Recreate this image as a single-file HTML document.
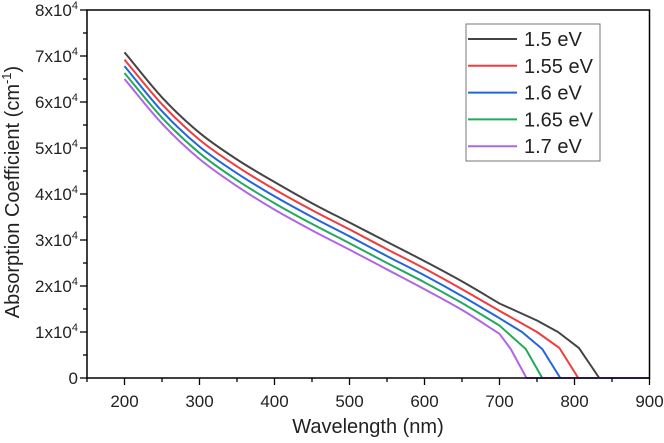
<!DOCTYPE html>
<html><head><meta charset="utf-8"><style>
body{margin:0;background:#fff;}
svg{display:block;font-family:"Liberation Sans",Arial,sans-serif;}
</style></head><body>
<svg id="chart" width="664" height="443" viewBox="0 0 664 443">
<g id="series"></g>
<g id="axes"></g>
<g id="legend"></g>
</svg>
<script>
const seriesNames = ["1.5 eV","1.55 eV","1.6 eV","1.65 eV","1.7 eV"];
const seriesColors = ["#444444","#f03c3c","#1f66e0","#22aa5a","#b066e6"];
const x15 = [200,250,300,350,400,450,500,550,600,650,700,750,778,806,833,900];
const y15 = [70.8,61,53.3,47.5,42.6,38,33.8,29.6,25.4,21,16.2,12.5,10,6.5,0,0];
const x155 = [200,250,300,350,400,450,500,550,600,650,700,750,780,805,900];
const y155 = [69.2,59.5,51.8,46,41,36.5,32.3,28,23.8,19.3,14.6,10,6.5,0,0];
const x16 = [200,250,300,350,400,450,500,550,600,650,700,730,757,781,900];
const y16 = [67.8,58,50.3,44.5,39.5,35,30.8,26.5,22.3,17.8,13,10,6.3,0,0];
const x165 = [200,250,300,350,400,450,500,550,600,650,700,735,757,900];
const y165 = [66.3,56.6,48.9,43,38,33.5,29.3,25,20.8,16.3,11.4,6.3,0,0];
const x17 = [200,250,300,350,400,450,500,550,600,650,700,715,736,900];
const y17 = [65,55.3,47.6,41.7,36.6,32.1,27.9,23.6,19.3,14.8,9.6,6.3,0,0];
const xTicks = [200,300,400,500,600,700,800,900];
const yTicks = [0,1,2,3,4,5,6,7,8];

const NS="http://www.w3.org/2000/svg";
const L=87,R=649.5,T=10,B=378;
const X=v=>L+(v-150)/(900-150)*(R-L);
const Y=v=>B-(v/80)*(B-T);
function mk(tag,attrs,parent){const e=document.createElementNS(NS,tag);for(const k in attrs)e.setAttribute(k,attrs[k]);parent.appendChild(e);return e;}
function smoothPath(px,py){
  // monotone cubic for points up to 700nm region, straight segments after
  const n=px.length,m=[],d=[];
  for(let i=0;i<n-1;i++)d.push((py[i+1]-py[i])/(px[i+1]-px[i]));
  for(let i=0;i<n;i++){
    if(i===0)m.push(d[0]);else if(i===n-1)m.push(d[n-2]);
    else m.push(d[i-1]*d[i]<=0?0:(d[i-1]+d[i])/2);
  }
  let s='M'+px[0].toFixed(2)+','+py[0].toFixed(2);
  for(let i=0;i<n-1;i++){
    const h=px[i+1]-px[i];
    if(i>=10||(i===n-2)){s+=' L'+px[i+1].toFixed(2)+','+py[i+1].toFixed(2);continue;}
    const m1=(i+1>=10)?d[i]:m[i+1];
    s+=' C'+(px[i]+h/3).toFixed(2)+','+(py[i]+m[i]*h/3).toFixed(2)+' '+(px[i+1]-h/3).toFixed(2)+','+(py[i+1]-m1*h/3).toFixed(2)+' '+px[i+1].toFixed(2)+','+py[i+1].toFixed(2);
  }
  return s;
}
const sg=document.getElementById('series'),ag=document.getElementById('axes'),lg=document.getElementById('legend');
const xs=[x15,x155,x16,x165,x17], ys=[y15,y155,y16,y165,y17];
for(let i=0;i<5;i++){
  const d=smoothPath(xs[i].map(X),ys[i].map(Y));
  const p=mk('path',{d:d,fill:'none',stroke:seriesColors[i],'stroke-width':2,'stroke-linejoin':'round'},sg);
  
  
}
const frame=mk('rect',{x:L,y:T,width:R-L,height:B-T,fill:'none',stroke:'#000','stroke-width':1.5},ag);


for(let v=150;v<=900;v+=50){
  const major=v%100===0;
  mk('line',{x1:X(v),x2:X(v),y1:B,y2:B+(major?7:4),stroke:'#000','stroke-width':1.3},ag);
}
xTicks.forEach(v=>{
  const t=mk('text',{x:X(v),y:B+29,'text-anchor':'middle','font-size':17,fill:'#222'},ag);
  t.textContent=v;
  
  
});
for(let v=0;v<=80;v+=5){
  const major=v%10===0;
  mk('line',{x1:L,x2:L-(major?7:4),y1:Y(v),y2:Y(v),stroke:'#000','stroke-width':1.3},ag);
}
yTicks.forEach(v=>{
  const t=mk('text',{x:78,y:Y(v*10)+6,'text-anchor':'end','font-size':17,fill:'#222'},ag);
  
  
  if(v===0){t.textContent='0';}
  else{
    t.textContent=v+'x10';
    const s=mk('tspan',{'font-size':11,dy:-7},t);s.textContent='4';
  }
});
const xt=mk('text',{x:368,y:433,'text-anchor':'middle','font-size':20,fill:'#222'},ag);
xt.textContent='Wavelength (nm)';


const yt=mk('text',{x:0,y:0,'text-anchor':'middle','font-size':20,fill:'#222',transform:'translate(19,192) rotate(-90)'},ag);
yt.textContent='Absorption Coefficient (cm';
const sup=mk('tspan',{'font-size':13,dy:-8},yt);sup.textContent='-1';
const cl=mk('tspan',{'font-size':20,dy:8},yt);cl.textContent=')';


const lb=mk('rect',{x:466,y:24,width:134,height:137,fill:'#fff',stroke:'#777','stroke-width':1},lg);


for(let i=0;i<5;i++){
  const cy=39+i*26.8;
  const g=mk('g',{},lg);
  
  
  mk('line',{x1:468,x2:517,y1:cy,y2:cy,stroke:seriesColors[i],'stroke-width':2},g);
  const t=mk('text',{x:524,y:cy+7,'font-size':20,fill:'#222'},g);
  t.textContent=seriesNames[i];
}
</script>
</body></html>
